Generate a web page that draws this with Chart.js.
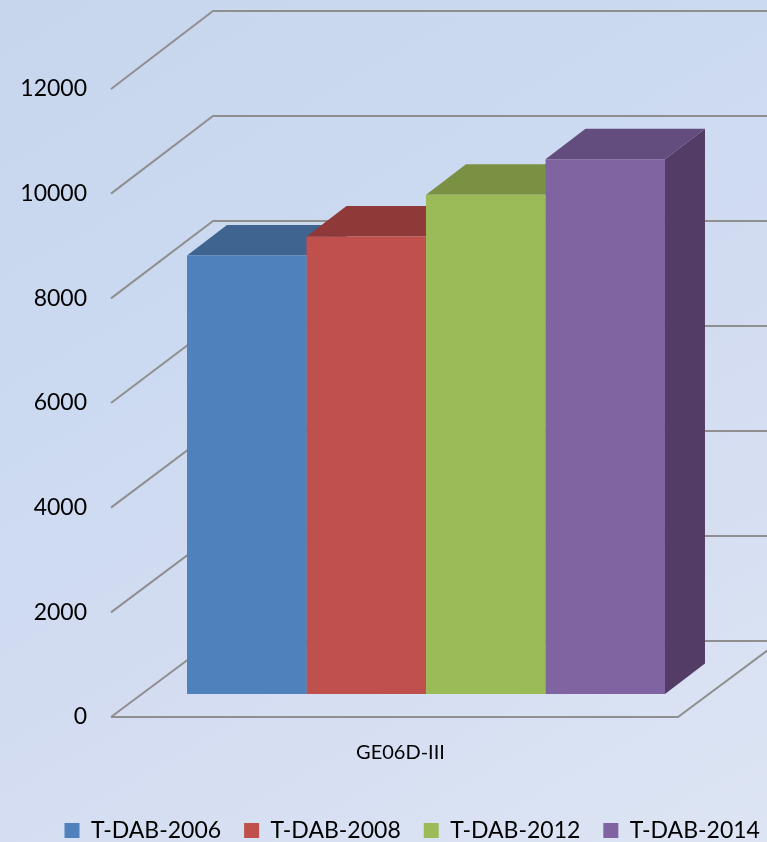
<!DOCTYPE html>
<html><head><meta charset="utf-8">
<style>
html,body{margin:0;padding:0;width:767px;height:842px;overflow:hidden;
background:linear-gradient(150deg,#c7d6ed 0%,#ccdaf1 35%,#d3dcf1 60%,#dde5f4 100%);}
canvas{display:block}
</style>
<script src="https://cdn.jsdelivr.net/npm/chart.js@4/dist/chart.umd.min.js"></script>
</head><body>
<canvas id="c" width="767" height="842"></canvas>
<script>
const categories = ["GE06D-III"];
const seriesNames = ["T-DAB-2006","T-DAB-2008","T-DAB-2012","T-DAB-2014"];
const values2006 = [8380];
const values2008 = [8740];
const values2012 = [9540];
const values2014 = [10220];
const frontColors = ["#4f81bd","#c0504d","#9bbb59","#8064a2"];
const topColors = ["#3f648f","#8f3a38","#7a9043","#624d7e"];
const sideColors = ["#35547a","#7a312f","#667a39","#533d66"];
const gridColor = "#8f8f8f";
const FONT = "Lato";

const wall = {dx:102, dyTop:78, dyBottom:76};
const barShift = {dx:31.5, dy:23};
const barDepth = {dx:40, dy:30.5};
const legendSpot = {left:41.5, right:840, top:796};

const box3d = {
  id:"box3d",
  afterLayout(chart){
    chart.legend.left = legendSpot.left;
    chart.legend.right = legendSpot.right;
    chart.legend.top = legendSpot.top;
  },
  beforeDatasetsDraw(chart){
    const {ctx, scales:{x,y}} = chart;
    const L = x.left, R = x.right;
    ctx.save();
    ctx.strokeStyle = gridColor;
    ctx.lineWidth = 2;
    y.ticks.forEach(t=>{
      const p = y.getPixelForValue(t.value);
      const f = t.value/y.max;
      const dy = wall.dyBottom + (wall.dyTop-wall.dyBottom)*f;
      ctx.beginPath();
      ctx.moveTo(L,p);
      ctx.lineTo(L+wall.dx,p-dy);
      ctx.lineTo(R+wall.dx,p-dy);
      ctx.stroke();
    });
    const p0 = y.getPixelForValue(0);
    ctx.beginPath();
    ctx.moveTo(L,p0);
    ctx.lineTo(R,p0);
    ctx.lineTo(R+wall.dx,p0-wall.dyBottom);
    ctx.stroke();
    ctx.translate(barShift.dx,-barShift.dy);
    chart.data.datasets.forEach((ds,i)=>{
      chart.getDatasetMeta(i).data.forEach(el=>{
        const l = el.x-el.width/2, r = el.x+el.width/2, t = el.y, b = el.base;
        ctx.fillStyle = sideColors[i];
        ctx.beginPath();
        ctx.moveTo(r,t);ctx.lineTo(r+barDepth.dx,t-barDepth.dy);
        ctx.lineTo(r+barDepth.dx,b-barDepth.dy);ctx.lineTo(r,b);
        ctx.closePath();ctx.fill();
        ctx.fillStyle = topColors[i];
        ctx.beginPath();
        ctx.moveTo(l,t);ctx.lineTo(l+barDepth.dx,t-barDepth.dy);
        ctx.lineTo(r+barDepth.dx,t-barDepth.dy);ctx.lineTo(r,t);
        ctx.closePath();ctx.fill();
      });
    });
    // the library draws the front faces inside this same shifted frame
    ctx.restore();
    ctx.save();
    ctx.translate(barShift.dx,-barShift.dy);
  },
  afterDatasetsDraw(chart){ chart.ctx.restore(); }
};

new Chart(document.getElementById("c"),{
  type:"bar",
  data:{
    labels:categories,
    datasets:[values2006,values2008,values2012,values2014].map((v,i)=>({
      label:seriesNames[i], data:v, backgroundColor:frontColors[i], borderWidth:0
    }))
  },
  plugins:[box3d],
  options:{
    responsive:false, devicePixelRatio:1, animation:false,
    layout:{padding:{left:0,right:0,top:89,bottom:0}},
    datasets:{bar:{categoryPercentage:0.843,barPercentage:1}},
    scales:{
      x:{
        grid:{display:false}, border:{display:false},
        ticks:{font:{family:FONT,size:20},color:"#000",padding:16,labelOffset:6,maxRotation:0},
        afterFit(s){s.height=69;}
      },
      y:{
        min:0,max:12000,
        grid:{display:false}, border:{display:false},
        ticks:{stepSize:2000,font:{family:FONT,size:23},color:"#000",padding:16,
          callback:v=>String(v)},
        afterFit(s){s.width=111;}
      },
      rightGap:{
        position:"right", display:true,
        grid:{display:false}, border:{display:false},
        ticks:{display:false},
        afterFit(s){s.width=89;}
      }
    },
    plugins:{
      tooltip:{enabled:false},
      title:{display:false},
      legend:{
        position:"bottom", align:"start",
        labels:{font:{family:FONT,size:23},color:"#000",boxWidth:15,boxHeight:15,padding:23}
      }
    }
  }
});
</script>
</body></html>
